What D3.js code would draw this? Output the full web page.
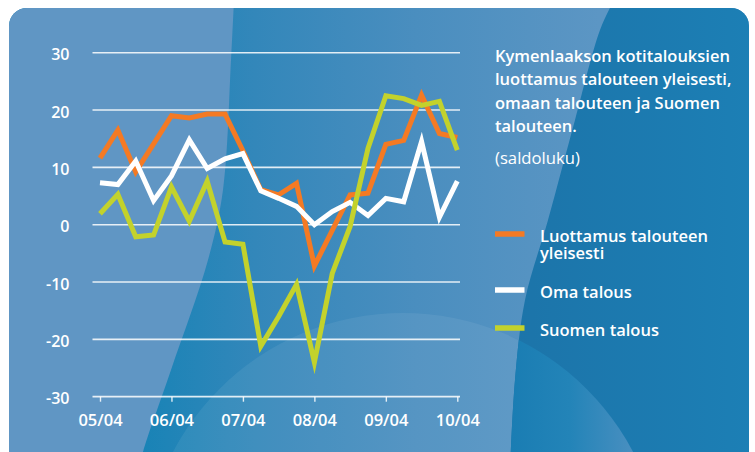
<!DOCTYPE html>
<html>
<head>
<meta charset="utf-8">
<script src="https://cdn.jsdelivr.net/npm/d3@7"></script>
<style>
  html, body { margin: 0; padding: 0; background: #ffffff; }
  svg { display: block; }
  text { font-family: "Open Sans", "Noto Sans", sans-serif; fill: #ffffff; }
</style>
</head>
<body>
<svg id="chart" width="755" height="452"></svg>
<script>
// Quarterly observations, 04/2005 .. 04/2010
const quarters = [
  "05/04","05/07","05/10","06/01","06/04","06/07","06/10","07/01","07/04","07/07",
  "07/10","08/01","08/04","08/07","08/10","09/01","09/04","09/07","09/10","10/01","10/04"
];
const tickLabels = ["05/04","06/04","07/04","08/04","09/04","10/04"];
const yTicks = [30, 20, 10, 0, -10, -20, -30];

// Saldoluku series
const luottamus = [11.6, 16.5, 9.2, 14.1, 19.0, 18.6, 19.3, 19.3, 12.9, 6.1, 5.2, 7.2, -7.2, -1.0, 5.2, 5.5, 14.0, 14.7, 22.6, 15.9, 15.2];
const omaTalous = [7.3, 7.0, 11.1, 4.2, 8.5, 14.8, 9.8, 11.5, 12.4, 5.9, 4.6, 3.2, 0.0, 2.3, 3.9, 1.6, 4.6, 4.0, 14.5, 1.3, 7.6];
const suomenTalous = [1.9, 5.3, -2.1, -1.8, 6.6, 0.6, 7.6, -3.0, -3.4, -21.2, -16.0, -10.4, -24.0, -8.5, -0.3, 13.3, 22.5, 22.0, 20.8, 21.5, 13.0];

const seriesNames = ["Luottamus talouteen yleisesti", "Oma talous", "Suomen talous"];
const seriesColors = ["#f47a24", "#ffffff", "#c3d22c"];

const titleLines = [
  "Kymenlaakson kotitalouksien",
  "luottamus talouteen yleisesti,",
  "omaan talouteen ja Suomen",
  "talouteen."
];
const unitLabel = "(saldoluku)";

const svg = d3.select("#chart");
const defs = svg.append("defs");

// ---------- background panel ----------
defs.append("clipPath").attr("id", "panelClip")
  .append("rect").attr("x", 9).attr("y", 8).attr("width", 740).attr("height", 462).attr("rx", 18);

const gMid = defs.append("linearGradient").attr("id", "midGrad")
  .attr("gradientUnits", "userSpaceOnUse").attr("x1", 140).attr("y1", 0).attr("x2", 600).attr("y2", 0);
gMid.append("stop").attr("offset", 0).attr("stop-color", "#1883b6");
gMid.append("stop").attr("offset", 0.25).attr("stop-color", "#3387ba");
gMid.append("stop").attr("offset", 0.6).attr("stop-color", "#4a8ebf");
gMid.append("stop").attr("offset", 1).attr("stop-color", "#5c96c4");

const gRight = defs.append("linearGradient").attr("id", "rightGrad")
  .attr("gradientUnits", "userSpaceOnUse").attr("x1", 510).attr("y1", 0).attr("x2", 750).attr("y2", 0);
gRight.append("stop").attr("offset", 0).attr("stop-color", "#1c74a9");
gRight.append("stop").attr("offset", 1).attr("stop-color", "#1c7fb5");

const gLens = defs.append("linearGradient").attr("id", "lensGrad")
  .attr("gradientUnits", "userSpaceOnUse").attr("x1", 512).attr("y1", 0).attr("x2", 640).attr("y2", 0);
gLens.append("stop").attr("offset", 0).attr("stop-color", "#1a7db3");
gLens.append("stop").attr("offset", 0.45).attr("stop-color", "#2384b8");
gLens.append("stop").attr("offset", 1).attr("stop-color", "#4d90c1");

const bg = svg.append("g").attr("clip-path", "url(#panelClip)");
bg.append("rect").attr("x", 0).attr("y", 0).attr("width", 755).attr("height", 470).attr("fill", "url(#midGrad)");

// soft lighter disc at the lower middle
defs.append("clipPath").attr("id", "midClip")
  .append("path").attr("d", "M0,0 L614,0 L600,30 L575,120 L548,220 L525,300 L515,380 L510,470 L0,470 Z");
bg.append("circle").attr("cx", 403).attr("cy", 573).attr("r", 260)
  .attr("fill", "#ffffff").attr("fill-opacity", 0.065).attr("clip-path", "url(#midClip)");

// lighter left section
const curve = d3.line().curve(d3.curveCatmullRom);
const leftEdge = [[234, 0], [231, 60], [223, 190], [208, 260], [171, 370], [143, 452], [139, 470]];
bg.append("path")
  .attr("d", curve(leftEdge) + " L0,470 L0,0 Z")
  .attr("fill", "#6096c4");

// darker right section
const rightEdge = [[614, 0], [600, 30], [575, 120], [548, 220], [525, 300], [515, 380], [510, 470]];
bg.append("path")
  .attr("d", curve(rightEdge) + " L755,470 L755,0 Z")
  .attr("fill", "url(#rightGrad)");
defs.append("clipPath").attr("id", "rightClip")
  .append("path").attr("d", curve(rightEdge) + " L755,470 L755,0 Z");
bg.append("circle").attr("cx", 403).attr("cy", 573).attr("r", 260)
  .attr("fill", "url(#lensGrad)").attr("clip-path", "url(#rightClip)");

// ---------- scales ----------
const x = d3.scalePoint().domain(quarters).range([100, 457.3]);
const y = d3.scaleLinear().domain([-30, 30]).range([396.7, 52.7]);
const gridX0 = 92.5, gridX1 = 460;

// gridlines
const grid = svg.append("g");
grid.selectAll("line").data(yTicks.filter(v => v !== -30)).join("line")
  .attr("x1", gridX0).attr("x2", gridX1)
  .attr("y1", d => y(d)).attr("y2", d => y(d))
  .attr("stroke", "#ffffff").attr("stroke-opacity", 0.85).attr("stroke-width", 1.6);

// y labels
svg.append("g").selectAll("text").data(yTicks).join("text")
  .attr("x", 69.5).attr("y", d => y(d) + 7.5)
  .attr("text-anchor", "end")
  .attr("font-size", 16).attr("font-weight", 600)
  .text(d => d);

// bottom axis
const xAxis = d3.axisBottom(x).tickValues(tickLabels).tickSize(5).tickPadding(13).tickSizeOuter(0);
const axG = svg.append("g").attr("transform", `translate(0,${y(-30)})`).call(xAxis);
axG.select(".domain").remove();
axG.insert("line", ":first-child").attr("x1", gridX0).attr("x2", gridX1).attr("y1", 0).attr("y2", 0)
  .attr("stroke", "#ffffff").attr("stroke-opacity", 0.85).attr("stroke-width", 1.8);
axG.selectAll(".tick line").attr("stroke", "#ffffff").attr("stroke-opacity", 0.85).attr("stroke-width", 1.4);
axG.selectAll(".tick text")
  .attr("fill", "#ffffff").attr("font-size", 16.5).attr("font-weight", 600)
  .attr("font-family", "'Open Sans', 'Noto Sans', sans-serif");

// ---------- series ----------
const line = d3.line().x((d, i) => x(quarters[i])).y(d => y(d));
const allSeries = [luottamus, omaTalous, suomenTalous];
svg.append("g").selectAll("path").data(allSeries).join("path")
  .attr("d", d => line(d))
  .attr("fill", "none")
  .attr("stroke", (d, i) => seriesColors[i])
  .attr("stroke-width", 5)
  .attr("stroke-linejoin", "miter")
  .attr("stroke-miterlimit", 10);

// ---------- title & legend ----------
function fitWidth(sel, target) {
  const w = sel.node().getComputedTextLength();
  const fs = parseFloat(sel.attr("font-size"));
  if (w > 0) sel.attr("font-size", (fs * target / w).toFixed(2));
}

const titleBaselines = [62.3, 85.3, 108.6, 131.8];
const titleG = svg.append("g");
titleLines.forEach((t, i) => {
  titleG.append("text").attr("x", 495).attr("y", titleBaselines[i])
    .attr("font-size", 15).attr("font-weight", 600).text(t);
});
// all title lines share the size fitted on the first one
const t0 = titleG.select("text");
fitWidth(t0, 235);
titleG.selectAll("text").attr("font-size", t0.attr("font-size"));

const unit = svg.append("text").attr("x", 495).attr("y", 163.5)
  .attr("font-size", 15.5).attr("font-weight", 400).text(unitLabel);
fitWidth(unit, 85);

const legendRows = [
  { y: 234, lines: ["Luottamus talouteen", "yleisesti"] },
  { y: 290, lines: ["Oma talous"] },
  { y: 328, lines: ["Suomen talous"] }
];
const legG = svg.append("g");
legendRows.forEach((r, i) => {
  legG.append("line").attr("x1", 495).attr("x2", 524.5).attr("y1", r.y).attr("y2", r.y)
    .attr("stroke", seriesColors[i]).attr("stroke-width", 5.5);
  const txt = legG.append("text").attr("class", "leg").attr("x", 540).attr("y", r.y + 7.6)
    .attr("font-size", 16.5).attr("font-weight", 600);
  r.lines.forEach((t, j) => {
    txt.append("tspan").attr("x", 540).attr("dy", j === 0 ? 0 : 17.3).text(t);
  });
});
// size fitted on the first legend line, shared by every legend entry
const l0 = legG.select("text tspan");
const lw = l0.node().getComputedTextLength();
const lfs = (16.5 * 168 / lw).toFixed(2);
legG.selectAll("text.leg").attr("font-size", lfs);
</script>
</body>
</html>
